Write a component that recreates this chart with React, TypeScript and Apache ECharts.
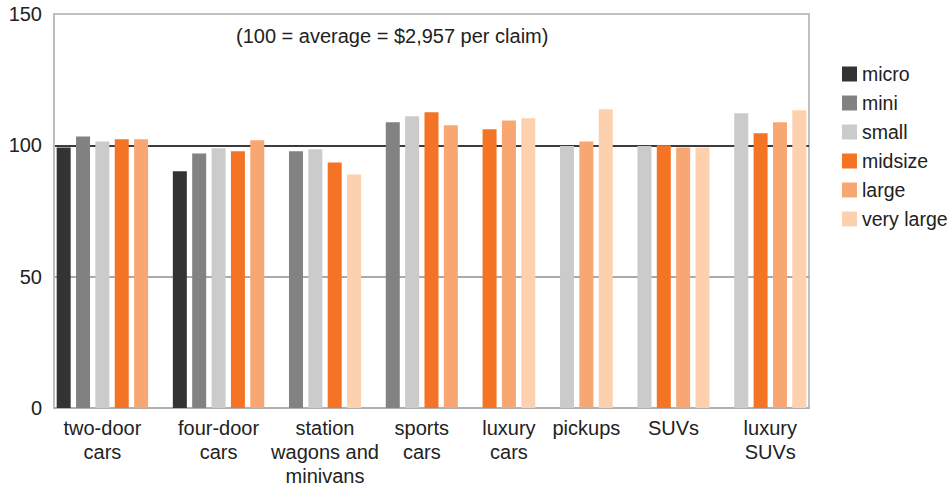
import React, { useEffect, useRef } from "react";
import * as echarts from "echarts";

const categories = [
  "two-door\ncars",
  "four-door\ncars",
  "station\nwagons and\nminivans",
  "sports\ncars",
  "luxury\ncars",
  "pickups",
  "SUVs",
  "luxury\nSUVs",
];
const seriesNames = ["micro", "mini", "small", "midsize", "large", "very large"];
const micro = [99.2, 90.1, null, null, null, null, null, null];
const mini = [103.4, 96.9, 97.7, 108.8, null, null, null, null];
const small = [101.5, 98.9, 98.5, 111.1, null, 99.7, 99.7, 112.2];
const midsize = [102.3, 97.7, 93.5, 112.6, 106.1, null, 100.0, 104.6];
const large = [102.3, 101.9, null, 107.6, 109.5, 101.5, 99.2, 108.8];
const veryLarge = [null, null, 88.9, null, 110.3, 113.7, 99.2, 113.4];
const yTicks = [0, 50, 100, 150];
const colors = ["#333333", "#828282", "#cbcbcb", "#f47324", "#f8a772", "#fdd0ae"];
const subtitle = "(100 = average = $2,957 per claim)";

const FONT = "'Liberation Sans', Arial, sans-serif";

export default function App() {
  const ref = useRef<HTMLDivElement>(null);
  useEffect(() => {
    if (!ref.current) return;
    const chart = echarts.init(ref.current, undefined, { renderer: "svg" });
    const all = [micro, mini, small, midsize, large, veryLarge];
    // Packed slot layout: each present bar takes a slot; one empty slot between groups.
    const slotSeries: number[] = [];
    const slotValue: number[] = [];
    const groupCenters: number[] = []; // in half-slot points
    categories.forEach((_, ci) => {
      const start = slotSeries.length;
      all.forEach((arr, si) => {
        const v = arr[ci];
        if (v !== null && v !== undefined) {
          slotSeries.push(si);
          slotValue.push(v as number);
        }
      });
      const end = slotSeries.length;
      groupCenters.push(start + end);
      if (ci < categories.length - 1) {
        slotSeries.push(-1);
        slotValue.push(NaN);
      }
    });
    const nSlots = slotSeries.length;
    const nPoints = nSlots * 2 + 1;
    const axisData = Array.from({ length: nPoints }, (_, i) => String(i));
    const labelAt: string[] = Array.from({ length: nPoints }, () => "");
    groupCenters.forEach((p, ci) => (labelAt[p] = categories[ci]));

    const series = seriesNames.map((name, si) => {
      const data: (number | null)[] = Array.from({ length: nPoints }, () => null);
      slotSeries.forEach((s, k) => {
        if (s === si) data[2 * k + 1] = slotValue[k];
      });
      return {
        name,
        type: "bar" as const,
        stack: "all",
        barWidth: 14,
        data,
        itemStyle: { color: colors[si] },
      };
    });

    chart.setOption({
      animation: false,
      textStyle: { fontFamily: FONT },
      title: {
        text: subtitle,
        left: 231,
        top: 21,
        textStyle: { fontFamily: FONT, fontSize: 20, fontWeight: "normal", color: "#222" },
      },
      legend: {
        orient: "vertical",
        left: 837,
        top: 59,
        itemWidth: 15,
        itemHeight: 15,
        itemGap: 9,
        icon: "rect",
        textStyle: { fontFamily: FONT, fontSize: 19.5, color: "#222" },
        data: seriesNames,
      },
      grid: {
        left: 54,
        right: 142,
        top: 14,
        bottom: 80,
        show: true,
        borderColor: "#c0c0c0",
        borderWidth: 2,
      },
      xAxis: {
        type: "category",
        data: axisData,
        boundaryGap: false,
        axisLine: { show: true, lineStyle: { color: "#b0b0b0", width: 2 } },
        axisTick: { show: false },
        splitLine: { show: false },
        axisLabel: {
          interval: 0,
          margin: 8,
          fontFamily: FONT,
          fontSize: 20,
          lineHeight: 24,
          color: "#222",
          formatter: (_v: string, idx: number) => labelAt[idx],
        },
      },
      yAxis: {
        type: "value",
        min: yTicks[0],
        max: yTicks[yTicks.length - 1],
        interval: 50,
        axisLine: { show: true, lineStyle: { color: "#bdbdbd", width: 2 } },
        axisTick: { show: false },
        axisLabel: { fontFamily: FONT, fontSize: 20, color: "#222", margin: 12 },
        splitLine: {
          show: true,
          lineStyle: { color: ["#b0b0b0", "#aaaaaa", "#3c3c3c", "#c0c0c0"], width: 2 },
        },
      },
      series,
    });
    return () => chart.dispose();
  }, []);
  return (
    <div
      ref={ref}
      style={{ position: "absolute", left: 0, top: 0, width: 951, height: 488 }}
    />
  );
}
